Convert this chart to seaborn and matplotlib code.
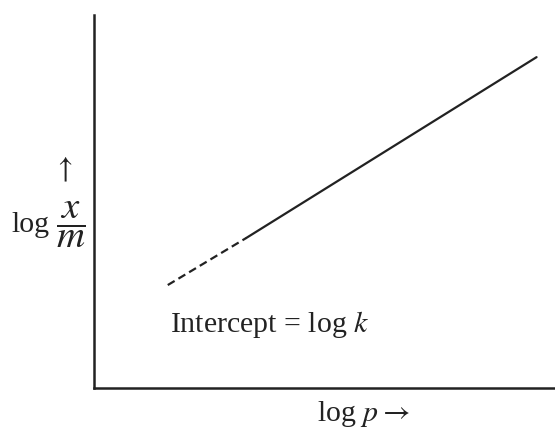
import pandas as pd
import matplotlib
matplotlib.use("Agg")
import matplotlib.pyplot as plt
import seaborn as sns

# Freundlich isotherm sketch: log(x/m) against log p
log_p_solid = [3.3, 9.6]
log_xm_solid = [4.02, 8.87]
log_p_dashed = [1.6, 3.3]
log_xm_dashed = [2.76, 4.02]

solid = pd.DataFrame({"log_p": log_p_solid, "log_xm": log_xm_solid})
dashed = pd.DataFrame({"log_p": log_p_dashed, "log_xm": log_xm_dashed})

sns.set_style("white")
plt.rcParams["font.family"] = ["Liberation Serif", "DejaVu Serif"]
plt.rcParams["mathtext.fontset"] = "stix"

fig = plt.figure(figsize=(5.55, 4.29), dpi=100)
ax = fig.add_axes([94 / 555, 41 / 429, 461 / 555, 373 / 429])

line_col = "#222222"
sns.lineplot(data=solid, x="log_p", y="log_xm", ax=ax, color=line_col, lw=1.6)
sns.lineplot(data=dashed, x="log_p", y="log_xm", ax=ax, color=line_col, lw=1.6,
             linestyle=(0, (3.6, 2.0)))

ax.set_xlim(0, 10)
ax.set_ylim(0, 10)
ax.set_xticks([])
ax.set_yticks([])
ax.set_xlabel("")
ax.set_ylabel("")
for side in ["top", "right"]:
    ax.spines[side].set_visible(False)
for side in ["left", "bottom"]:
    ax.spines[side].set_linewidth(1.8)
    ax.spines[side].set_color(line_col)

fs = 21.5
fig.text(170 / 555, 1 - 332 / 429, "Intercept = log $k$", fontsize=fs,
         va="baseline", ha="left", color=line_col)
fig.text(317 / 555, 1 - 421 / 429, r"log $p \rightarrow$", fontsize=fs,
         va="baseline", ha="left", color=line_col)
fig.text(11 / 555, 1 - 232 / 429, "log", fontsize=fs,
         va="baseline", ha="left", color=line_col)
fig.text(71 / 555, 1 - 225 / 429, r"$\dfrac{x}{m}$", fontsize=fs * 1.3,
         va="center", ha="center", color=line_col)
fig.text(63 / 555, 1 - 184 / 429, r"$\uparrow$", fontsize=fs,
         va="bottom", ha="center", color=line_col)

fig.savefig("out.png", dpi=100)
